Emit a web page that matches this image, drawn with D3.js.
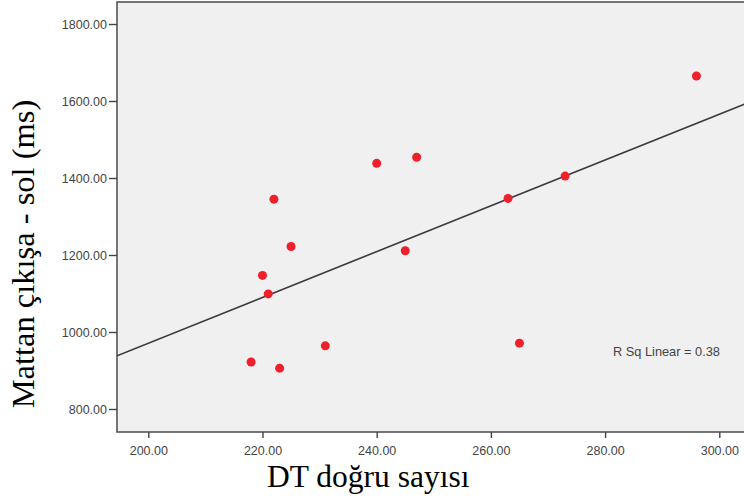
<!DOCTYPE html>
<html>
<head>
<meta charset="utf-8">
<script src="https://cdn.jsdelivr.net/npm/d3@7"></script>
<style>
  body { margin: 0; background: #fff; }
  svg { display: block; }
</style>
</head>
<body>
<script>
// DT doğru sayısı vs Mattan çıkışa - sol (ms)
const dtCorrect = [296, 222, 240, 247, 273, 263, 225, 245, 220, 221, 231, 265, 218, 223];
const exitTimeLeft = [1665, 1345, 1438, 1454, 1405, 1347, 1222, 1211, 1147, 1099, 964, 971, 922, 906];
const xTicks = [200, 220, 240, 260, 280, 300];
const yTicks = [800, 1000, 1200, 1400, 1600, 1800];
const rSqLabel = "R Sq Linear = 0.38";

const width = 744, height = 502;
const svg = d3.select("body").append("svg").attr("width", width).attr("height", height);

const plotL = 117, plotT = 2, plotB = 432, plotR = 760;

const x = d3.scaleLinear().domain([200, 300]).range([148.3, 719.3]);
const y = d3.scaleLinear().domain([800, 1800]).range([409, 24]);

// plot background + frame
svg.append("rect")
  .attr("x", plotL).attr("y", plotT)
  .attr("width", plotR - plotL).attr("height", plotB - plotT)
  .attr("fill", "#f0f0f0")
  .attr("stroke", "#555").attr("stroke-width", 1.6);

// axes
const xAxis = svg.append("g")
  .attr("transform", `translate(0,${plotB})`)
  .call(d3.axisBottom(x).tickValues(xTicks).tickFormat(d3.format(".2f")).tickSize(6).tickSizeOuter(0));
const yAxis = svg.append("g")
  .attr("transform", `translate(${plotL},0)`)
  .call(d3.axisLeft(y).tickValues(yTicks).tickFormat(d3.format(".2f")).tickSize(8).tickSizeOuter(0));

[xAxis, yAxis].forEach(g => {
  g.select(".domain").remove();
  g.selectAll("line").attr("stroke", "#444").attr("stroke-width", 1.4);
  g.selectAll("text")
    .attr("fill", "#444")
    .style("font-family", "Liberation Sans, Arial, sans-serif")
    .style("font-size", "12.5px");
});
xAxis.selectAll("text").attr("dy", "1.1em");
yAxis.selectAll("text").attr("x", -10);

// least-squares fit line
const n = dtCorrect.length;
const mx = d3.mean(dtCorrect), my = d3.mean(exitTimeLeft);
let sxy = 0, sxx = 0;
for (let i = 0; i < n; i++) {
  sxy += (dtCorrect[i] - mx) * (exitTimeLeft[i] - my);
  sxx += (dtCorrect[i] - mx) ** 2;
}
const slope = sxy / sxx, icpt = my - slope * mx;
const x0 = x.invert(plotL), x1 = x.invert(plotR);

svg.append("clipPath").attr("id", "clip")
  .append("rect").attr("x", plotL).attr("y", plotT).attr("width", plotR - plotL).attr("height", plotB - plotT);

svg.append("line")
  .attr("clip-path", "url(#clip)")
  .attr("x1", x(x0)).attr("y1", y(icpt + slope * x0))
  .attr("x2", x(x1)).attr("y2", y(icpt + slope * x1))
  .attr("stroke", "#3a3a3a").attr("stroke-width", 1.6);

// points
svg.append("g").selectAll("circle")
  .data(dtCorrect.map((d, i) => [d, exitTimeLeft[i]]))
  .join("circle")
  .attr("cx", d => x(d[0]))
  .attr("cy", d => y(d[1]))
  .attr("r", 4.5)
  .attr("fill", "#f0202a");

// R sq annotation
svg.append("text")
  .attr("x", 720).attr("y", 356)
  .attr("text-anchor", "end")
  .attr("fill", "#444")
  .style("font-family", "Liberation Sans, Arial, sans-serif")
  .style("font-size", "12.8px")
  .text(rSqLabel);

// axis titles
svg.append("text")
  .attr("x", 267).attr("y", 487)
  .style("font-family", "Liberation Serif, Times New Roman, serif")
  .style("font-size", "31.5px")
  .text("DT doğru sayısı");

svg.append("text")
  .attr("transform", "translate(34,254) rotate(-90)")
  .attr("text-anchor", "middle")
  .style("font-family", "Liberation Serif, Times New Roman, serif")
  .style("font-size", "32.5px")
  .text("Mattan çıkışa - sol (ms)");
</script>
</body>
</html>
